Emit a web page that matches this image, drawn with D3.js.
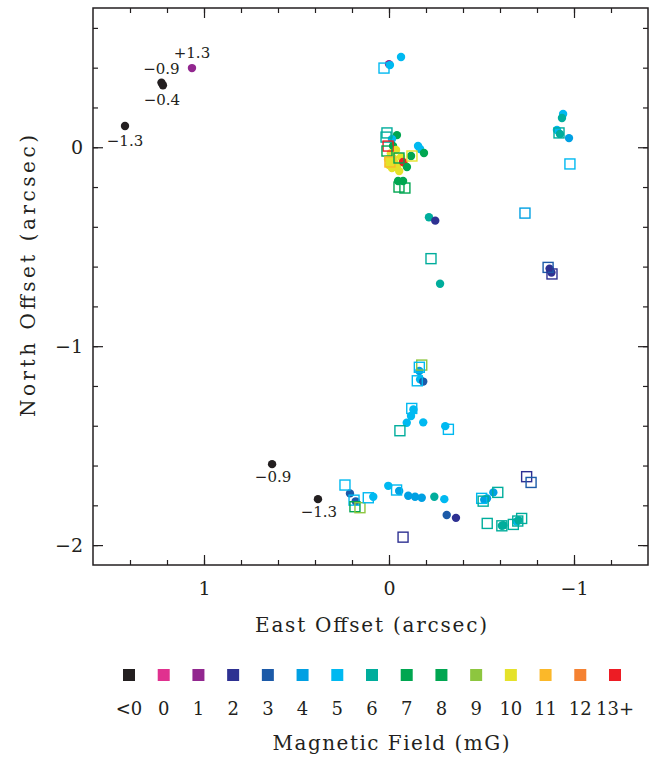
<!DOCTYPE html>
<html>
<head>
<meta charset="utf-8">
<script src="https://cdn.jsdelivr.net/npm/d3@7"></script>
<style>
  body { margin: 0; background: #fff; }
  text { font-family: "DejaVu Serif", "Liberation Serif", serif; fill: #231f20; }
</style>
</head>
<body>
<div id="chart"></div>
<script>
'use strict'

// magnetic field bins (legend) and their colours
const fieldBins = ['<0', '0', '1', '2', '3', '4', '5', '6', '7', '8', '9', '10', '11', '12', '13+']
const binColors = ['#231f20', '#e0318f', '#92278f', '#2e3192', '#1c5aa8', '#00a0e3', '#00b9f1',
  '#00ad9c', '#00a650', '#00a651', '#8dc63f', '#e5e22a', '#fbb829', '#f58232', '#ed1c24']

// maser spots: [east offset, north offset, field in mG]
const circles = [
  [0.000, 0.418, 1], [-0.005, 0.413, 5], [-0.065, 0.454, 5],
  [-0.941, 0.167, 5], [-0.935, 0.147, 6], [-0.908, 0.087, 5], [-0.924, 0.067, 6], [-0.973, 0.046, 4],
  [-0.043, 0.061, 7], [-0.016, 0.041, 5], [-0.022, 0.006, 8],
  [-0.038, -0.014, 10], [-0.022, -0.054, 10], [0.000, -0.089, 10], [-0.043, -0.099, 10],
  [-0.065, -0.049, 10], [-0.081, -0.079, 10], [-0.016, -0.104, 10], [-0.030, -0.075, 10],
  [-0.010, -0.030, 10], [-0.055, -0.120, 10], [0.005, -0.060, 10],
  [-0.076, -0.074, 13], [-0.119, -0.044, 7], [-0.097, -0.099, 8],
  [-0.157, 0.006, 5], [-0.168, -0.009, 5], [-0.189, -0.029, 8],
  [-0.049, -0.170, 8], [-0.076, -0.170, 7],
  [-0.216, -0.352, 6], [-0.250, -0.369, 2], [-0.276, -0.686, 6],
  [-0.868, -0.610, 2], [-0.878, -0.630, 2],
  [-0.168, -1.167, 5], [-0.185, -1.178, 3], [-0.164, -1.125, 4],
  [-0.132, -1.318, 5], [-0.119, -1.351, 5], [-0.096, -1.385, 5], [-0.185, -1.383, 5], [-0.304, -1.402, 5],
  [0.211, -1.740, 3], [0.180, -1.780, 3], [0.085, -1.757, 5], [0.004, -1.702, 5],
  [-0.055, -1.728, 4], [-0.104, -1.752, 4], [-0.141, -1.757, 4], [-0.177, -1.762, 4],
  [-0.245, -1.757, 6], [-0.299, -1.769, 5], [-0.312, -1.849, 3], [-0.362, -1.863, 2],
  [-0.515, -1.772, 4], [-0.530, -1.765, 4], [-0.564, -1.735, 4],
  [-0.610, -1.903, 6], [-0.618, -1.900, 6], [-0.690, -1.882, 5], [-0.700, -1.875, 6]
]

const squares = [
  [0.027, 0.398, 5], [-0.919, 0.072, 6], [-0.978, -0.084, 5], [-0.735, -0.331, 4],
  [0.011, 0.072, 6], [0.016, 0.051, 6], [0.005, 0.006, 13], [0.011, -0.019, 7],
  [-0.005, -0.074, 11], [-0.054, -0.054, 7], [-0.124, -0.044, 10],
  [-0.054, -0.200, 7], [-0.086, -0.205, 8],
  [-0.227, -0.560, 6], [-0.860, -0.604, 3], [-0.881, -0.637, 2],
  [-0.177, -1.095, 9], [-0.164, -1.106, 5], [-0.153, -1.174, 5],
  [-0.123, -1.313, 5], [-0.059, -1.425, 6], [-0.321, -1.418, 5],
  [0.238, -1.698, 5], [0.189, -1.774, 5], [0.184, -1.807, 7], [0.157, -1.812, 9],
  [0.112, -1.762, 5], [-0.041, -1.723, 5],
  [-0.501, -1.765, 5], [-0.509, -1.779, 6], [-0.588, -1.735, 6],
  [-0.531, -1.891, 6], [-0.610, -1.903, 6], [-0.672, -1.896, 6], [-0.696, -1.879, 6], [-0.717, -1.866, 6],
  [-0.744, -1.656, 2], [-0.768, -1.685, 3], [-0.076, -1.960, 2]
]

// spots annotated with their field value: [east, north, field, label]
const labeled = [
  [1.427, 0.107, -1.3, '\u22121.3'],
  [1.230, 0.325, -0.9, '\u22120.9'],
  [1.222, 0.312, -0.4, '\u22120.4'],
  [1.065, 0.398, 1.3, '+1.3'],
  [0.632, -1.593, -0.9, '\u22120.9'],
  [0.384, -1.769, -1.3, '\u22121.3']
]
// label offsets relative to their spot (px)
const labelShift = [[0, 15], [0, -14], [-1, 15], [0, -15], [1, 13], [1, 13]]

const xDomain = [1.6, -1.4]
const yDomain = [-2.1, 0.7]

const width = 649
const height = 757
const margin = { left: 93, top: 8, right: 1, bottom: 192 }
const w = width - margin.left - margin.right
const h = height - margin.top - margin.bottom

const svg = d3.select('#chart').append('svg')
  .attr('width', width)
  .attr('height', height)

const g = svg.append('g')
  .attr('transform', 'translate(' + margin.left + ',' + margin.top + ')')

const x = d3.scaleLinear().domain(xDomain).range([0, w])
const y = d3.scaleLinear().domain(yDomain).range([h, 0])

function binIndex (b) {
  if (b < 0) return 0
  if (b >= 13) return 14
  return Math.floor(b) + 1
}
const color = b => binColors[binIndex(b)]
const fmt = d => d < 0 ? '\u2212' + (-d) : String(d)

// ticks
const minorX = d3.range(-1.2, 1.5, 0.2).map(d => +d.toFixed(1))
const minorY = d3.range(-2.0, 0.7, 0.2).map(d => +d.toFixed(1))
const majorX = [1, 0, -1]
const majorY = [0, -1, -2]

function drawAxis (axis, tx, ty) {
  const a = g.append('g')
    .attr('transform', 'translate(' + tx + ',' + ty + ')')
    .call(axis)
  a.select('.domain').remove()
  a.selectAll('line').attr('stroke', '#231f20').attr('stroke-width', 1.2)
  a.selectAll('text').style('font-size', '19px').attr('fill', '#231f20')
  return a
}

drawAxis(d3.axisBottom(x).tickValues(minorX).tickSize(-5).tickFormat(''), 0, h)
drawAxis(d3.axisBottom(x).tickValues(majorX).tickSize(-10).tickPadding(17).tickFormat(fmt), 0, h)
drawAxis(d3.axisTop(x).tickValues(minorX).tickSize(-5).tickFormat(''), 0, 0)
drawAxis(d3.axisTop(x).tickValues(majorX).tickSize(-10).tickFormat(''), 0, 0)
drawAxis(d3.axisLeft(y).tickValues(minorY).tickSize(-5).tickFormat(''), 0, 0)
drawAxis(d3.axisLeft(y).tickValues(majorY).tickSize(-10).tickPadding(10).tickFormat(fmt), 0, 0)
drawAxis(d3.axisRight(y).tickValues(minorY).tickSize(-5).tickFormat(''), w, 0)
drawAxis(d3.axisRight(y).tickValues(majorY).tickSize(-10).tickFormat(''), w, 0)

g.append('rect')
  .attr('width', w)
  .attr('height', h)
  .attr('fill', 'none')
  .attr('stroke', '#231f20')
  .attr('stroke-width', 1.5)

// spots
g.append('g').selectAll('circle')
  .data(circles)
  .join('circle')
  .attr('cx', d => x(d[0]))
  .attr('cy', d => y(d[1]))
  .attr('r', 4.2)
  .attr('fill', d => color(d[2]))

g.append('g').selectAll('rect')
  .data(squares)
  .join('rect')
  .attr('x', d => x(d[0]) - 5)
  .attr('y', d => y(d[1]) - 5)
  .attr('width', 10)
  .attr('height', 10)
  .attr('fill', 'none')
  .attr('stroke', d => color(d[2]))
  .attr('stroke-width', 1.4)

g.append('g').selectAll('circle')
  .data(labeled)
  .join('circle')
  .attr('cx', d => x(d[0]))
  .attr('cy', d => y(d[1]))
  .attr('r', 4.2)
  .attr('fill', d => color(d[2]))

g.append('g').selectAll('text')
  .data(labeled)
  .join('text')
  .attr('x', (d, i) => x(d[0]) + labelShift[i][0])
  .attr('y', (d, i) => y(d[1]) + labelShift[i][1])
  .attr('text-anchor', 'middle')
  .attr('dy', '0.35em')
  .style('font-size', '15px')
  .text(d => d[3])

// axis titles
svg.append('text')
  .attr('x', 371)
  .attr('y', 632)
  .attr('text-anchor', 'middle')
  .attr('textLength', 232)
  .attr('lengthAdjust', 'spacing')
  .style('font-size', '20px')
  .text('East Offset (arcsec)')

svg.append('text')
  .attr('transform', 'translate(28,' + 276 + ') rotate(-90)')
  .attr('text-anchor', 'middle')
  .attr('dy', '0.35em')
  .attr('textLength', 282)
  .attr('lengthAdjust', 'spacing')
  .style('font-size', '20px')
  .text('North Offset (arcsec)')

// legend
const lx = d3.scalePoint().domain(fieldBins).range([129, 615])
const legend = svg.append('g')
legend.selectAll('rect')
  .data(fieldBins)
  .join('rect')
  .attr('x', d => lx(d) - 6)
  .attr('y', 669)
  .attr('width', 12)
  .attr('height', 12)
  .attr('fill', (d, i) => binColors[i])

legend.selectAll('text')
  .data(fieldBins)
  .join('text')
  .attr('x', d => lx(d))
  .attr('y', 715)
  .attr('text-anchor', 'middle')
  .style('font-size', '18px')
  .text(d => d)

svg.append('text')
  .attr('x', 391)
  .attr('y', 750)
  .attr('text-anchor', 'middle')
  .attr('textLength', 237)
  .attr('lengthAdjust', 'spacing')
  .style('font-size', '20px')
  .text('Magnetic Field (mG)')
</script>
</body>
</html>
